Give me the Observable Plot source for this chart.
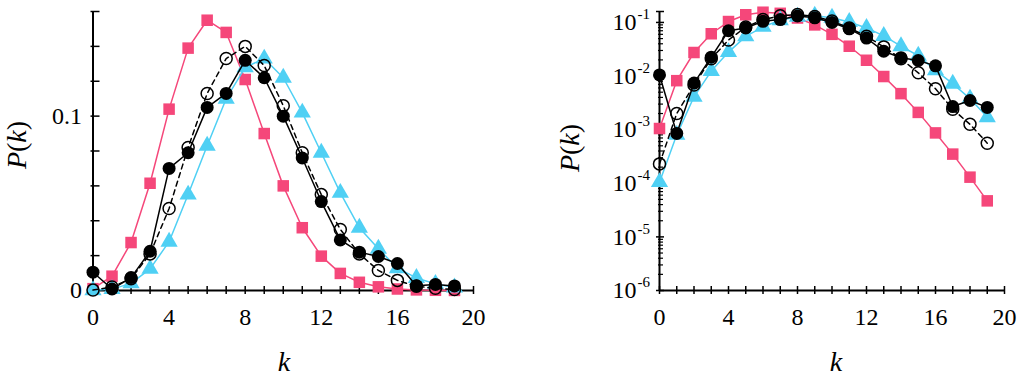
<!DOCTYPE html>
<html><head><meta charset="utf-8">
<script src="https://cdn.jsdelivr.net/npm/d3@7"></script>
<script src="https://cdn.jsdelivr.net/npm/@observablehq/plot@0.6"></script>
<style>
body{margin:0;background:#fff;}
#wrap{display:flex;width:1022px;height:382px;overflow:hidden;}
#wrap svg{flex:none;}
#wrap svg text{font-family:"Liberation Serif","Times New Roman",Times,serif;}
</style></head><body><div id="wrap"></div>
<script>
// ---- data ----
const kValues = [0,1,2,3,4,5,6,7,8,9,10,11,12,13,14,15,16,17,18,19];
const pinkSquares = [0.00105,0.0082,0.0275,0.0615,0.104,0.139,0.155,0.148,0.121,0.090,0.060,0.036,0.0197,0.0098,0.0047,0.0021,0.00087,0.00035,0.00013,0.000047];
const blueTriangles = [0.000105,0.0008,0.0041,0.0124,0.028,0.055,0.083,0.110,0.128,0.133,0.122,0.102,0.079,0.056,0.036,0.024,0.0128,0.0072,0.0038,0.0017];
const openCircles = [0.00023,0.002,0.0068,0.021,0.047,0.082,0.113,0.133,0.140,0.129,0.106,0.079,0.055,0.035,0.021,0.0115,0.0058,0.0024,0.00126,0.00056];
const blackFilled = [0.0105,0.00085,0.0074,0.0225,0.070,0.079,0.105,0.113,0.132,0.122,0.100,0.076,0.051,0.029,0.022,0.0195,0.0155,0.0027,0.0035,0.0026];

const xTickLabels = [0,4,8,12,16,20];
const xMinorTicks = [0,1,2,3,4,5,6,7,8,9,10,11,12,13,14,15,16,17,18,19,20];
const linYTicks = [0,0.02,0.04,0.06,0.08,0.1,0.12,0.14,0.16];
const linYTickLabels = [0,0.1];
const logDecades = [-6,-5,-4,-3,-2,-1];
const yMax = 0.16;

// ---- helpers ----
const PINK = "#f5477a", BLUE = "#4fd0f4";
const FONT = '"Liberation Serif","Times New Roman",Times,serif';
const rows = vals => kValues.map((k,i)=>({k, p: vals[i]}));
const sPink = rows(pinkSquares), sBlue = rows(blueTriangles), sOpen = rows(openCircles), sBlack = rows(blackFilled);

function seriesMarks() {
  return [
    Plot.line(sPink, {x:"k", y:"p", stroke: PINK, strokeWidth: 1.5}),
    Plot.dot(sPink, {x:"k", y:"p", symbol:"square", r:6.5, fill: PINK, stroke: "none"}),
    Plot.line(sBlue, {x:"k", y:"p", stroke: BLUE, strokeWidth: 1.5}),
    Plot.dot(sBlue, {x:"k", y:"p", symbol:"triangle", r:6.4, fill: BLUE, stroke: "none"}),
    Plot.line(sOpen, {x:"k", y:"p", stroke: "#000", strokeWidth: 1.5, strokeDasharray: "5,4"}),
    Plot.dot(sOpen, {x:"k", y:"p", r:6, fill: "none", stroke: "#000", strokeWidth: 1.5}),
    Plot.line(sBlack, {x:"k", y:"p", stroke: "#000", strokeWidth: 1.5}),
    Plot.dot(sBlack, {x:"k", y:"p", r:6.5, fill: "#000", stroke: "none"})
  ];
}

const baseStyle = {fontFamily: FONT, fontSize: "24px", color: "#000", background: "#fff", overflow: "visible"};

function xAxisMarks() {
  return [
    Plot.axisX({ticks: xMinorTicks, tickSize: 8, dy: -4, tickFormat: () => "", strokeWidth: 1.5, label: null}),
    Plot.axisX({ticks: xTickLabels, tickSize: 0, tickPadding: 17, fontSize: 24, fontFamily: FONT, label: null})
  ];
}

// ---- left panel (linear) ----
const left = Plot.plot({
  width: 511, height: 382,
  marginLeft: 92.5, marginRight: 38, marginTop: 11, marginBottom: 92,
  x: {domain: [0,20]},
  y: {domain: [0,yMax]},
  style: baseStyle,
  marks: [
    Plot.ruleY([0], {x1: 0, x2: 20, stroke: "#000", strokeWidth: 2}),
    Plot.ruleX([0], {y1: 0, y2: yMax, stroke: "#000", strokeWidth: 2}),
    ...xAxisMarks(),
    Plot.axisY({ticks: linYTicks, tickSize: 9, dx: 7, tickFormat: () => "", strokeWidth: 1.5, label: null}),
    Plot.axisY({ticks: linYTickLabels, tickSize: 0, tickPadding: 11, fontSize: 24, fontFamily: FONT, tickFormat: d => d === 0 ? "0" : String(d), label: null}),
    ...seriesMarks()
  ]
});

// ---- right panel (log) ----
const logMajor = logDecades.map(d => 10 ** d).concat([yMax]);
const logMinor = [];
for (const d of logDecades.slice(0, -1)) for (let n = 2; n <= 9; n++) logMinor.push(n * 10 ** d);

const right = Plot.plot({
  width: 511, height: 382,
  marginLeft: 148, marginRight: 18, marginTop: 11, marginBottom: 92,
  x: {domain: [0,20]},
  y: {type: "log", domain: [1e-6, yMax]},
  style: baseStyle,
  marks: [
    Plot.ruleY([1e-6], {x1: 0, x2: 20, stroke: "#000", strokeWidth: 2}),
    Plot.ruleX([0], {y1: 1e-6, y2: yMax, stroke: "#000", strokeWidth: 2}),
    ...xAxisMarks(),
    Plot.axisY({ticks: logMajor, tickSize: 8, dx: 5, tickFormat: () => "", strokeWidth: 1.5, label: null}),
    Plot.axisY({ticks: logMinor, tickSize: 5, dx: 4, tickFormat: () => "", strokeWidth: 1.2, label: null}),
    Plot.text(logDecades, {y: d => 10 ** d, frameAnchor: "left", text: () => "10", textAnchor: "end", dx: -23, fontSize: 24, fontFamily: FONT}),
    Plot.text(logDecades, {y: d => 10 ** d, frameAnchor: "left", text: d => "-" + (-d), textAnchor: "start", dx: -22, dy: -8, fontSize: 15, fontFamily: FONT}),
    ...seriesMarks()
  ]
});

// ---- axis titles ----
function addTitles(svg, yx, yy, kx, ky) {
  const s = d3.select(svg);
  const t = s.append("text")
    .attr("transform", `translate(${yx},${yy}) rotate(-90)`)
    .attr("text-anchor", "middle").attr("dy", "0.3em")
    .attr("font-size", 28).attr("fill", "#000");
  t.append("tspan").attr("font-style", "italic").text("P");
  t.append("tspan").text("(");
  t.append("tspan").attr("font-style", "italic").text("k");
  t.append("tspan").text(")");
  s.append("text").attr("x", kx).attr("y", ky)
    .attr("text-anchor", "middle").attr("font-size", 28).attr("font-style", "italic")
    .attr("fill", "#000").text("k");
}
addTitles(left, 18, 145, 284, 371);
addTitles(right, 60, 148, 325, 371);

const wrap = document.getElementById("wrap");
wrap.appendChild(left);
wrap.appendChild(right);
</script>
</body></html>
